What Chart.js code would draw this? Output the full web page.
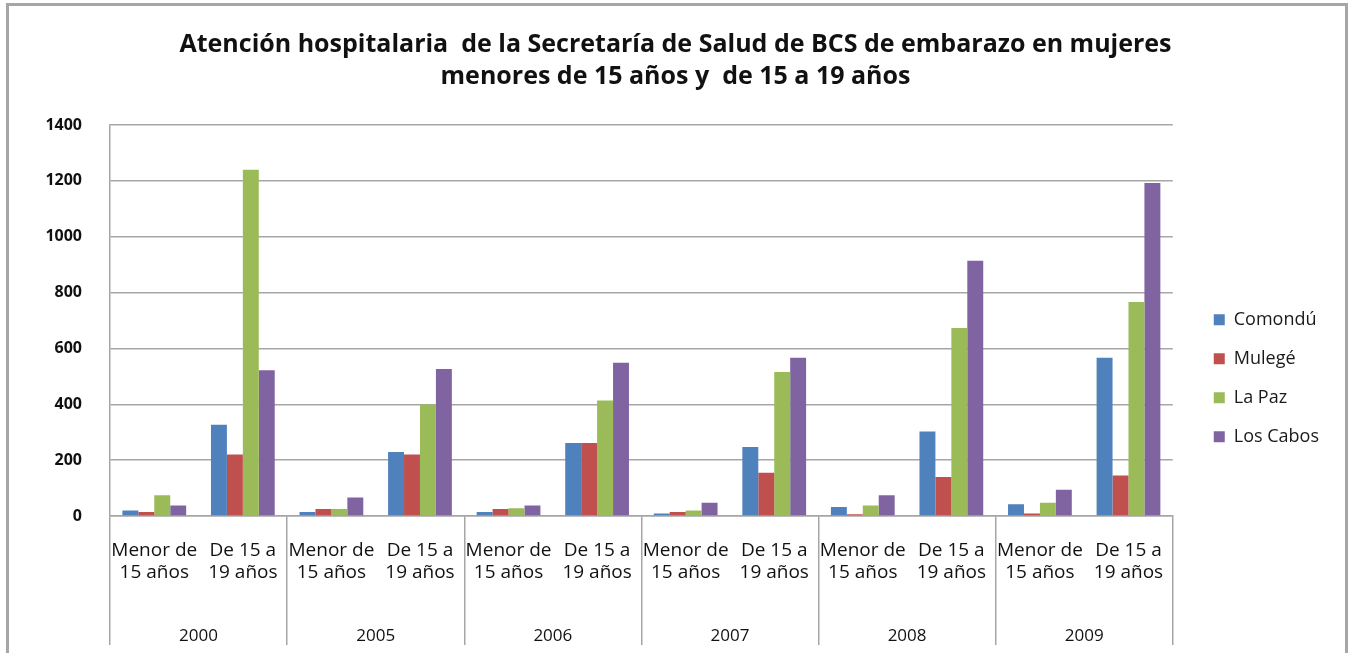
<!DOCTYPE html>
<html lang="es">
<head>
<meta charset="utf-8">
<title>Atención hospitalaria BCS</title>
<script src="https://cdn.jsdelivr.net/npm/chart.js@4.4.1/dist/chart.umd.min.js"></script>
<style>
  html, body { margin: 0; padding: 0; background: #fff; }
  #contenedor { position: relative; width: 1349px; height: 653px; overflow: hidden; }
  #marco { position: absolute; left: 6px; top: 3px; width: 1336px; height: 700px;
    border: 3px solid #a6a6a6; border-bottom: none; pointer-events: none; }
</style>
</head>
<body>
<div id="contenedor">
  <canvas id="grafico-embarazo" width="1349" height="653"></canvas>
  <div id="marco"></div>
</div>
<script>
// --- DATOS ---
const grupos = [["Menor de", "15 años"], ["De 15 a", "19 años"]];
const anios = ["2000", "2005", "2006", "2007", "2008", "2009"];
const categorias = anios.flatMap(() => grupos);

const comondu  = [20, 327, 14, 229, 14, 261,  9, 247, 32, 303, 42,  567];
const mulege   = [14, 220, 25, 220, 25, 261, 14, 155,  6, 140,  9,  145];
const laPaz    = [74, 1240, 25, 399, 28, 414, 20, 516, 38, 673, 47, 766];
const losCabos = [38, 522, 66, 526, 38, 549, 47, 567, 74, 914, 94, 1192];

const escalaY = { min: 0, max: 1400, paso: 200 };

const gris = '#a6a6a6';
Chart.defaults.font.family = "'Open Sans', 'DejaVu Sans', sans-serif";
Chart.defaults.color = '#000';

const ctx = document.getElementById('grafico-embarazo');

new Chart(ctx, {
  type: 'bar',
  data: {
    labels: categorias,
    datasets: [
      { label: 'Comondú', data: comondu, backgroundColor: '#4f81bd' },
      { label: 'Mulegé', data: mulege, backgroundColor: '#c0504d' },
      { label: 'La Paz', data: laPaz, backgroundColor: '#9bbb59' },
      { label: 'Los Cabos', data: losCabos, backgroundColor: '#8064a2' }
    ]
  },
  options: {
    responsive: false,
    animation: false,
    layout: { padding: { left: 22, right: 20, top: 0, bottom: 0 } },
    datasets: { bar: { barPercentage: 1.0, categoryPercentage: 0.72, borderWidth: 0 } },
    scales: {
      x: {
        offset: true,
        grid: {
          offset: true,
          drawOnChartArea: false,
          drawTicks: true,
          tickLength: 129,
          lineWidth: 1.5,
          // solo las divisiones entre años
          color: c => (c.index === undefined || c.index % 2 === 0) ? gris : 'rgba(0,0,0,0)'
        },
        border: { display: true, color: gris, width: 1.5 },
        ticks: {
          autoSkip: false, maxRotation: 0, minRotation: 0,
          padding: -105,
          font: { size: 19, lineHeight: 1.16 },
          color: '#111'
        },
        afterFit: s => { s.height = 70; }
      },
      x2: {
        type: 'category',
        position: 'bottom',
        labels: anios,
        offset: true,
        grid: { display: false },
        border: { display: false },
        ticks: { padding: 32, font: { size: 17 }, color: '#111' },
        afterFit: s => { s.height = 67; }
      },
      y: {
        min: escalaY.min,
        max: escalaY.max,
        ticks: {
          stepSize: escalaY.paso, padding: 28,
          font: { size: 16, weight: 'bold' }, color: '#111',
          callback: v => String(v)
        },
        grid: { color: gris, lineWidth: 1.5, drawTicks: false },
        border: { display: true, color: gris, width: 1.5 },
        afterFit: s => { s.width = 88; }
      },
      // hueco entre el area de barras y la leyenda
      hueco: {
        type: 'linear',
        position: 'right',
        display: true,
        ticks: { display: false },
        grid: { display: false },
        border: { display: false },
        afterFit: s => { s.width = 20; }
      }
    },
    plugins: {
      title: {
        display: true,
        text: ['Atención hospitalaria  de la Secretaría de Salud de BCS de embarazo en mujeres',
               'menores de 15 años y  de 15 a 19 años'],
        font: { size: 25, weight: 'bold', lineHeight: 1.28 },
        color: '#111',
        padding: { top: 29, bottom: 32 }
      },
      legend: {
        position: 'right',
        align: 'center',
        title: { display: true, text: '', padding: { top: 89, bottom: 0 }, font: { size: 12 } },
        labels: {
          boxWidth: 11, boxHeight: 11, padding: 21,
          font: { size: 18 }, color: '#1a1a1a'
        }
      },
      tooltip: { enabled: false }
    }
  }
});
</script>
</body>
</html>
